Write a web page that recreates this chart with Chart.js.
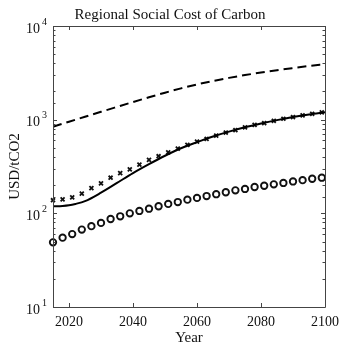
<!DOCTYPE html>
<html>
<head>
<meta charset="utf-8">
<script src="https://cdn.jsdelivr.net/npm/chart.js@4.4.1/dist/chart.umd.min.js"></script>
<style>
  html, body { margin: 0; padding: 0; background: #fff; }
  #wrap { width: 340px; height: 346px; }
</style>
</head>
<body>
<div id="wrap"><canvas id="scc"></canvas></div>
<script>
// dashed curve (upper)
var upperYears = [2015, 2020, 2025, 2030, 2035, 2040, 2045, 2050, 2055, 2060, 2065, 2070, 2075, 2080, 2085, 2090, 2095, 2100];
var upperScc = [841, 951, 1074, 1213, 1368, 1542, 1734, 1941, 2158, 2377, 2588, 2793, 2992, 3184, 3373, 3556, 3741, 3926];
// solid curve
var centralYears = [2015, 2018, 2020, 2022, 2025, 2030, 2035, 2040, 2045, 2050, 2055, 2060, 2065, 2070, 2075, 2080, 2085, 2090, 2095, 2100];
var centralScc = [119, 120, 122, 126, 135, 166, 211, 269, 335, 412, 495, 575, 661, 745, 828, 908, 989, 1067, 1138, 1202];

// years for the marker series
var markerYears = [2015, 2018, 2021, 2024, 2027, 2030, 2033, 2036, 2039, 2042, 2045, 2048, 2051, 2054, 2057,
                   2060, 2063, 2066, 2069, 2072, 2075, 2078, 2081, 2084, 2087, 2090, 2093, 2096, 2099];
var crossScc = [138, 141, 148, 162, 186, 209, 240, 269, 295, 331, 372, 407, 447, 490, 537,
                583, 622, 676, 729, 773, 826, 881, 918, 973, 1023, 1067, 1112, 1156, 1197];
var circleScc = [49, 55, 60, 67, 73, 79, 87, 93, 100, 106, 112, 119, 126, 132, 140,
                 146, 153, 160, 168, 176, 182, 191, 197, 204, 211, 219, 226, 234, 240];

// axis ticks
var xTicks = [2020, 2040, 2060, 2080, 2100];
var yMajor = [10, 100, 1000, 10000];
var yExp = ['1', '2', '3', '4'];

var serif = '"Liberation Serif", "Times New Roman", serif';

function pairs(xs, ys) {
    var out = [];
    for (var i = 0; i < xs.length; i++) out.push({x: xs[i], y: ys[i]});
    return out;
}

// matlab style box, inward ticks and 10^n labels
var matlabAxes = {
    id: 'matlabAxes',
    afterDraw: function(chart) {
        var ctx = chart.ctx, a = chart.chartArea;
        var xs = chart.scales.x, ys = chart.scales.y;
        ctx.save();
        ctx.strokeStyle = '#444';
        ctx.lineWidth = 1;
        ctx.beginPath();
        ctx.rect(Math.round(a.left) + 0.5, Math.round(a.top) + 0.5,
                 Math.round(a.right - a.left), Math.round(a.bottom - a.top));
        ctx.stroke();

        ctx.beginPath();
        xTicks.forEach(function(v) {
            var px = Math.round(xs.getPixelForValue(v)) + 0.5;
            ctx.moveTo(px, a.bottom); ctx.lineTo(px, a.bottom - 4);
            ctx.moveTo(px, a.top); ctx.lineTo(px, a.top + 4);
        });
        ys.ticks.forEach(function(t) {
            var py = Math.round(ys.getPixelForValue(t.value)) + 0.5;
            var major = yMajor.indexOf(t.value) >= 0;
            var len = major ? 4 : 2.5;
            ctx.moveTo(a.left, py); ctx.lineTo(a.left + len, py);
            ctx.moveTo(a.right, py); ctx.lineTo(a.right - len, py);
        });
        ctx.stroke();

        ctx.fillStyle = '#111';
        yMajor.forEach(function(v, i) {
            var py = ys.getPixelForValue(v);
            ctx.font = '14px ' + serif;
            ctx.textAlign = 'right';
            ctx.textBaseline = 'middle';
            ctx.fillText('10', a.left - 13, py + 3);
            ctx.font = '10px ' + serif;
            ctx.textAlign = 'left';
            ctx.fillText(yExp[i], a.left - 11, py - 4);
        });
        ctx.restore();
    }
};

var ctx = document.getElementById('scc').getContext('2d');
var sccChart = new Chart(ctx, {
    type: 'line',
    data: {
        datasets: [{
            label: 'upper',
            data: pairs(upperYears, upperScc),
            borderColor: '#000',
            borderWidth: 2,
            borderDash: [9, 5],
            pointRadius: 0,
            cubicInterpolationMode: 'monotone',
            fill: false
        }, {
            label: 'central',
            data: pairs(centralYears, centralScc),
            borderColor: '#000',
            borderWidth: 2,
            pointRadius: 0,
            cubicInterpolationMode: 'monotone',
            fill: false
        }, {
            label: 'cross',
            data: pairs(markerYears, crossScc),
            showLine: false,
            pointStyle: 'crossRot',
            pointRadius: 2.8,
            pointBorderWidth: 1.8,
            pointBorderColor: '#111',
            clip: false
        }, {
            label: 'circle',
            data: pairs(markerYears, circleScc),
            showLine: false,
            pointStyle: 'circle',
            pointRadius: 3.2,
            pointBorderWidth: 1.9,
            pointBorderColor: '#111',
            pointBackgroundColor: 'rgba(0,0,0,0)',
            clip: false
        }]
    },
    options: {
        responsive: true,
        maintainAspectRatio: false,
        animation: false,
        layout: { padding: 0 },
        plugins: {
            legend: { display: false },
            tooltip: { enabled: false },
            title: {
                display: true,
                text: 'Regional Social Cost of Carbon',
                color: '#111',
                font: { family: serif, size: 15, weight: 'normal', lineHeight: 1.2 },
                padding: { top: 6, bottom: 2 }
            }
        },
        scales: {
            x: {
                type: 'linear',
                min: 2015,
                max: 2100,
                afterBuildTicks: function(scale) {
                    scale.ticks = xTicks.map(function(v) { return {value: v}; });
                },
                afterFit: function(scale) {
                    scale.height = 39;
                    scale.paddingLeft = 0;
                    scale.paddingRight = 15;
                },
                grid: { display: false, drawTicks: false },
                border: { display: false },
                ticks: {
                    color: '#111',
                    padding: 7,
                    maxRotation: 0,
                    font: { family: serif, size: 14, lineHeight: 1.2 },
                    callback: function(v) { return String(v); }
                },
                title: {
                    display: true,
                    text: 'Year',
                    color: '#111',
                    font: { family: serif, size: 15, lineHeight: 1 },
                    padding: { top: 0, bottom: 0 }
                }
            },
            y: {
                type: 'logarithmic',
                min: 10,
                max: 10000,
                afterFit: function(scale) { scale.width = 53; },
                grid: { display: false, drawTicks: false },
                border: { display: false },
                ticks: { display: false },
                title: {
                    display: true,
                    text: 'USD/tCO2',
                    color: '#111',
                    font: { family: serif, size: 15, lineHeight: 1.2 },
                    padding: { top: 6, bottom: 0 }
                }
            }
        }
    },
    plugins: [matlabAxes]
});
</script>
</body>
</html>
